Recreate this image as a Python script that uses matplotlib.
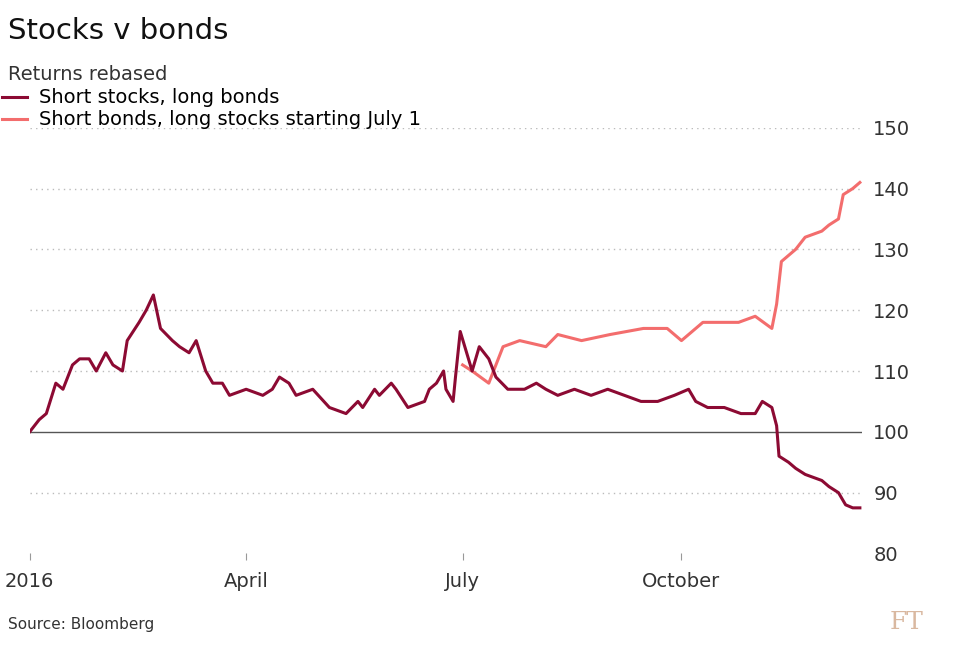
import matplotlib
matplotlib.use("Agg")
import matplotlib.pyplot as plt
import pandas as pd

dark_dates = ["2016-01-01","2016-01-05","2016-01-08","2016-01-12","2016-01-15","2016-01-19","2016-01-22","2016-01-26","2016-01-29",
"2016-02-02","2016-02-05","2016-02-09","2016-02-11","2016-02-16","2016-02-19","2016-02-22","2016-02-25","2016-03-01","2016-03-04",
"2016-03-08","2016-03-11","2016-03-15","2016-03-18","2016-03-22","2016-03-25","2016-04-01","2016-04-08","2016-04-12","2016-04-15",
"2016-04-19","2016-04-22","2016-04-29","2016-05-06","2016-05-13","2016-05-18","2016-05-20","2016-05-25","2016-05-27","2016-06-01",
"2016-06-03","2016-06-08","2016-06-15","2016-06-17","2016-06-20","2016-06-23","2016-06-24","2016-06-27","2016-06-28","2016-06-30",
"2016-07-05","2016-07-08","2016-07-12","2016-07-15","2016-07-20","2016-07-27","2016-08-01","2016-08-05","2016-08-10","2016-08-17",
"2016-08-24","2016-08-31","2016-09-07","2016-09-14","2016-09-21","2016-09-28","2016-10-04","2016-10-07","2016-10-12","2016-10-19",
"2016-10-26","2016-11-01","2016-11-04","2016-11-08","2016-11-10","2016-11-11","2016-11-15","2016-11-18","2016-11-22","2016-11-29",
"2016-12-02","2016-12-06","2016-12-09","2016-12-12","2016-12-15"]
dark_values = [100,102,103,108,107,111,112,112,110,113,111,110,115,118,120,122.5,117,115,114,113,115,110,108,108,106,107,106,107,109,
108,106,107,104,103,105,104,107,106,108,107,104,105,107,108,110,107,105,109,116.5,110,114,112,109,107,107,108,107,106,107,
106,107,106,105,105,106,107,105,104,104,103,103,105,104,101,96,95,94,93,92,91,90,88,87.5,87.5]

light_dates = ["2016-07-01","2016-07-05","2016-07-12","2016-07-15","2016-07-18","2016-07-25","2016-08-05","2016-08-10","2016-08-20",
"2016-09-01","2016-09-15","2016-09-25","2016-10-01","2016-10-10","2016-10-25","2016-11-01","2016-11-08","2016-11-10","2016-11-12",
"2016-11-18","2016-11-22","2016-11-29","2016-12-02","2016-12-06","2016-12-08","2016-12-12","2016-12-15"]
light_values = [111,110,108,111,114,115,114,116,115,116,117,117,115,118,118,119,117,121,128,130,132,133,134,135,139,140,141]

yticks = [80, 90, 100, 110, 120, 130, 140, 150]
xtick_dates = ["2016-01-01","2016-04-01","2016-07-01","2016-10-01"]
xtick_labels = ["2016","April","July","October"]

DARK = "#8c0a33"
LIGHT = "#f36d6d"
fig = plt.figure(figsize=(9.57, 6.55), dpi=100)
ax = fig.add_axes([0.031, 0.155, 0.87, 0.65])
ax.plot(pd.to_datetime(dark_dates), dark_values, color=DARK, lw=2.2, label="Short stocks, long bonds", zorder=3)
ax.plot(pd.to_datetime(light_dates), light_values, color=LIGHT, lw=2.2, label="Short bonds, long stocks starting July 1", zorder=2)
ax.set_ylim(80, 150)
ax.set_xlim(pd.Timestamp("2016-01-01"), pd.Timestamp("2016-12-16"))
ax.yaxis.tick_right()
ax.set_yticks(yticks)
ax.tick_params(axis="y", length=0, labelsize=14, colors="#333333", pad=8)
for y in yticks:
    if y == 100:
        ax.axhline(y, color="#555555", lw=1, zorder=1)
    elif y != 80:
        ax.axhline(y, color="#bbbbbb", lw=1, ls=(0, (1, 3)), zorder=1)
ax.set_xticks(pd.to_datetime(xtick_dates))
ax.set_xticklabels(xtick_labels)
ax.tick_params(axis="x", length=5, labelsize=14, colors="#333333", pad=8)
for s in ["top", "right", "left", "bottom"]:
    ax.spines[s].set_visible(False)
ax.tick_params(axis="x", color="#999999")
ax.legend(loc="upper left", bbox_to_anchor=(0.002, 0.865), bbox_transform=fig.transFigure,
          frameon=False, fontsize=14, handlelength=1.3, labelspacing=0.15, borderaxespad=0,
          borderpad=0, handletextpad=0.6)
fig.text(0.008, 0.94, "Stocks v bonds", fontsize=21, color="#111111")
fig.text(0.008, 0.878, "Returns rebased", fontsize=14, color="#333333")
fig.text(0.008, 0.04, "Source: Bloomberg", fontsize=11, color="#333333")
fig.text(0.93, 0.04, "FT", fontsize=18, color="#d9b8a0", family="DejaVu Serif")
fig.savefig("out.png")
